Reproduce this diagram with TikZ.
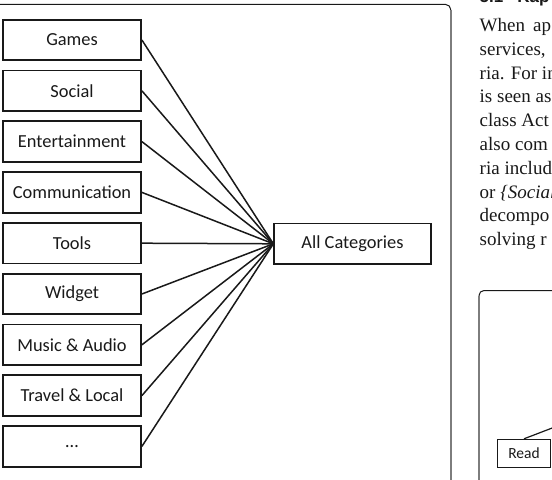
\documentclass[tikz,border=0pt]{standalone}
\usepackage{fontspec}
\setmainfont{Liberation Serif}
\newfontfamily\boxfont{Carlito}
\newfontfamily\headfont{Liberation Sans}
\usetikzlibrary{positioning}
\definecolor{FrameGray}{RGB}{125,125,125}
\definecolor{InkBlack}{RGB}{25,25,25}

\tikzset{
  catbox/.style={draw=InkBlack, line width=1.8bp, minimum width=138bp,
    minimum height=40.7bp, inner sep=0pt, text=InkBlack,
    font=\boxfont\fontsize{18.4bp}{22bp}\selectfont},
  hubbox/.style={catbox, minimum width=156.5bp},
  readbox/.style={catbox, line width=1.4bp, minimum width=53bp,
    minimum height=28bp, font=\boxfont\fontsize{15.5bp}{18bp}\selectfont},
  link/.style={InkBlack, line width=1.5bp},
  paperline/.style={anchor=base west, inner sep=0pt, text=InkBlack,
    font=\fontsize{19bp}{23bp}\selectfont},
  frametop/.style={InkBlack, line width=1bp, rounded corners=5bp},
  frameside/.style={FrameGray, line width=1.6bp}
}

\begin{document}
\begin{tikzpicture}[x=1bp, y=-1bp]
  \useasboundingbox (0,0) rectangle (552,480);
  \begin{scope}
    \clip (0,0) rectangle (552,480);
    \draw[frametop] (-10,4.5) -- (450.7,4.5) -- (450.7,500);
    \draw[frameside] (450.7,10) -- (450.7,500);

    \foreach \lbl [count=\i] in {Games, Social, Entertainment, Communication,
        Tools, Widget, Music \& Audio, Travel \& Local, \dots}{
      \node[catbox] (cat\i) at (72,{40+50.8*(\i-1)}) {\lbl};
    }
    \node[hubbox] (all) at (352.5,243.8) {All Categories};
    \foreach \i in {1,...,9}{
      \draw[link] (cat\i.east) -- (all.west);
    }

    \node[anchor=base west, inner sep=0pt, text=InkBlack,
      font=\headfont\bfseries\fontsize{17bp}{20bp}\selectfont]
      (head) at (479.5,2.5) {5.1\hspace{14bp}Kap};
    \node[paperline] (l1) at (479.5,31.5) {When\hspace{8bp}ap};
    \node[paperline] (l2) at (479.5,55.3) {services,};
    \node[paperline] (l3) at (479.5,79.1) {ria. For in};
    \node[paperline] (l4) at (479.5,102.9) {is seen as};
    \node[paperline] (l5) at (479.5,126.7) {class Act};
    \node[paperline] (l6) at (479.5,150.5) {also com};
    \node[paperline] (l7) at (479.5,174.3) {ria includ};
    \node[paperline] (l8) at (479.5,198.1) {or {\itshape\{Social}};
    \node[paperline] (l9) at (479.5,221.9) {decompo};
    \node[paperline] (l10) at (479.5,245.7) {solving r};

    \draw[frametop] (479,500) -- (479,290.5) -- (560,290.5);
    \draw[frameside] (479,296) -- (479,500);
    \node[readbox] (read) at (524,453.5) {Read};
    \coordinate (readup) at (560,425);
    \draw[link, line width=1.2bp] (read.north) -- (readup);
  \end{scope}
\end{tikzpicture}
\end{document}
